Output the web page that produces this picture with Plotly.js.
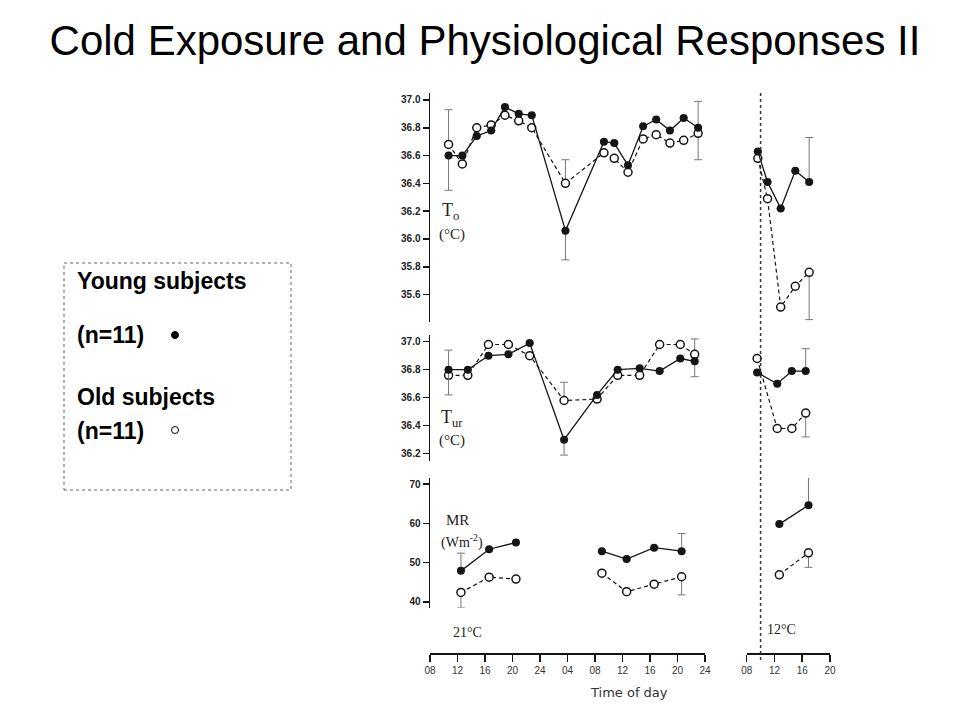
<!DOCTYPE html>
<html>
<head>
<meta charset="utf-8">
<script src="https://cdn.plot.ly/plotly-3.0.1.min.js"></script>
<style>
  html, body { margin: 0; padding: 0; background: #ffffff; }
  #chart { width: 960px; height: 720px; }
</style>
</head>
<body>
<div id="chart"></div>
<script>
// ---------------- DATA ----------------
// Time is in hours from midnight of day 1 (28 = 04:00 of the next day, 48 = 24:00 of day 2)

// Panel 1 – core temperature T_o (°C), 21°C condition
const hoursTo21      = [10.7, 12.7, 14.8, 16.9, 18.9, 20.9, 22.8, 27.7, 33.3, 34.8, 36.8, 39.0, 40.9, 42.9, 44.9, 47.0];
const youngTo21      = [36.60, 36.60, 36.74, 36.78, 36.95, 36.90, 36.89, 36.06, 36.70, 36.69, 36.53, 36.81, 36.86, 36.78, 36.87, 36.80];
const oldTo21        = [36.68, 36.54, 36.80, 36.82, 36.89, 36.85, 36.80, 36.40, 36.62, 36.58, 36.48, 36.72, 36.75, 36.69, 36.71, 36.76];
const youngTo21SdUp  = [0, null, null, null, null, null, null, 0, null, null, null, null, null, null, null, 0.19];
const youngTo21SdDn  = [0.25, null, null, null, null, null, null, 0.21, null, null, null, null, null, null, null, 0];
const oldTo21SdUp    = [0.25, null, null, null, null, null, null, 0.17, null, null, null, null, null, null, null, 0];
const oldTo21SdDn    = [0, null, null, null, null, null, null, 0, null, null, null, null, null, null, null, 0.19];

// Panel 1 – T_o, 12°C condition
const hoursTo12      = [9.6, 11.0, 12.9, 15.0, 17.0];
const youngTo12      = [36.63, 36.41, 36.22, 36.49, 36.41];
const oldTo12        = [36.58, 36.29, 35.51, 35.66, 35.76];
const youngTo12SdUp  = [null, null, null, null, 0.32];
const youngTo12SdDn  = [null, null, null, null, 0];
const oldTo12SdUp    = [null, null, null, null, 0];
const oldTo12SdDn    = [null, null, null, null, 0.34];

// Panel 2 – urine temperature T_ur (°C), 21°C condition
const hoursTur21     = [10.7, 13.5, 16.5, 19.4, 22.5, 27.5, 32.3, 35.3, 38.5, 41.4, 44.4, 46.5];
const youngTur21     = [36.80, 36.80, 36.90, 36.91, 36.99, 36.30, 36.62, 36.80, 36.81, 36.79, 36.88, 36.86];
const oldTur21       = [36.76, 36.76, 36.98, 36.98, 36.90, 36.58, 36.59, 36.76, 36.76, 36.98, 36.98, 36.91];
const youngTur21SdUp = [0, null, null, null, null, 0, null, null, null, null, null, 0];
const youngTur21SdDn = [0.18, null, null, null, null, 0.11, null, null, null, null, null, 0.11];
const oldTur21SdUp   = [0.18, null, null, null, null, 0.13, null, null, null, null, null, 0.11];
const oldTur21SdDn   = [0, null, null, null, null, 0, null, null, null, null, null, 0];

// Panel 2 – T_ur, 12°C condition
const hoursTur12     = [9.5, 12.4, 14.5, 16.5];
const youngTur12     = [36.78, 36.70, 36.79, 36.79];
const oldTur12       = [36.88, 36.38, 36.38, 36.49];
const youngTur12SdUp = [null, null, null, 0.16];
const youngTur12SdDn = [null, null, null, 0];
const oldTur12SdUp   = [null, null, null, 0];
const oldTur12SdDn   = [null, null, null, 0.17];

// Panel 3 – metabolic rate MR (W m^-2), 21°C condition (null = gap, no measurement overnight)
const hoursMR21      = [12.5, 16.6, 20.5, null, 33.0, 36.6, 40.6, 44.6];
const youngMR21      = [47.9, 53.4, 55.1, null, 52.9, 50.9, 53.8, 52.9];
const oldMR21        = [42.4, 46.3, 45.8, null, 47.3, 42.6, 44.5, 46.4];
const youngMR21SdUp  = [4.5, null, null, null, null, null, null, 4.5];
const youngMR21SdDn  = [0, null, null, null, null, null, null, 0];
const oldMR21SdUp    = [0, null, null, null, null, null, null, 0];
const oldMR21SdDn    = [3.9, null, null, null, null, null, null, 4.6];

// Panel 3 – MR, 12°C condition
const hoursMR12      = [12.7, 16.9];
const youngMR12      = [59.8, 64.6];
const oldMR12        = [46.9, 52.5];
const youngMR12SdUp  = [null, 8.5];
const youngMR12SdDn  = [null, 0];
const oldMR12SdUp    = [null, 0];
const oldMR12SdDn    = [null, 3.7];

// Start of cold exposure (hour, 12°C day)
const coldStartHour  = [10.0];

// Tick values and labels
const tickHours21  = [8, 12, 16, 20, 24, 28, 32, 36, 40, 44, 48];
const tickLabels21 = ["08", "12", "16", "20", "24", "04", "08", "12", "16", "20", "24"];
const tickHours12  = [8, 12, 16, 20];
const tickLabels12 = ["08", "12", "16", "20"];
const tickTo  = [35.6, 35.8, 36.0, 36.2, 36.4, 36.6, 36.8, 37.0];
const tickTur = [36.2, 36.4, 36.6, 36.8, 37.0];
const tickMR  = [40, 50, 60, 70];

// ---------------- helpers ----------------
const W = 960, H = 720;
const px = v => v / W;          // pixel -> paper x
const py = v => 1 - v / H;      // pixel -> paper y
const INK = '#151515';

function trace(x, y, xa, ya, young, up, dn) {
  return {
    type: 'scatter',
    mode: 'lines+markers',
    x: x, y: y, xaxis: xa, yaxis: ya,
    connectgaps: false,
    cliponaxis: false,
    showlegend: false,
    hoverinfo: 'x+y',
    line: young ? {color: INK, width: 1.3} : {color: INK, width: 1.2, dash: '4px,3px'},
    marker: young
      ? {symbol: 'circle', size: 8, color: INK, line: {width: 0}}
      : {symbol: 'circle', size: 8, color: '#ffffff', line: {color: INK, width: 1.5}},
    error_y: {
      type: 'data', symmetric: false, array: up, arrayminus: dn,
      color: '#777777', thickness: 1, width: 4
    }
  };
}

const data = [
  trace(hoursTo21, oldTo21, 'x', 'y', false, oldTo21SdUp, oldTo21SdDn),
  trace(hoursTo21, youngTo21, 'x', 'y', true, youngTo21SdUp, youngTo21SdDn),
  trace(hoursTo12, oldTo12, 'x2', 'y', false, oldTo12SdUp, oldTo12SdDn),
  trace(hoursTo12, youngTo12, 'x2', 'y', true, youngTo12SdUp, youngTo12SdDn),

  trace(hoursTur21, oldTur21, 'x', 'y2', false, oldTur21SdUp, oldTur21SdDn),
  trace(hoursTur21, youngTur21, 'x', 'y2', true, youngTur21SdUp, youngTur21SdDn),
  trace(hoursTur12, oldTur12, 'x2', 'y2', false, oldTur12SdUp, oldTur12SdDn),
  trace(hoursTur12, youngTur12, 'x2', 'y2', true, youngTur12SdUp, youngTur12SdDn),

  trace(hoursMR21, oldMR21, 'x', 'y3', false, oldMR21SdUp, oldMR21SdDn),
  trace(hoursMR21, youngMR21, 'x', 'y3', true, youngMR21SdUp, youngMR21SdDn),
  trace(hoursMR12, oldMR12, 'x2', 'y3', false, oldMR12SdUp, oldMR12SdDn),
  trace(hoursMR12, youngMR12, 'x2', 'y3', true, youngMR12SdUp, youngMR12SdDn)
];

const tickFontY = {family: 'Liberation Sans, Arial, sans-serif', size: 10, color: '#222', weight: 'bold'};
const tickFontX = {family: 'Liberation Sans, Arial, sans-serif', size: 10, color: '#333'};

function yAxis(range, domain, vals, fmt) {
  return {
    range: range, domain: domain, anchor: 'x',
    showline: true, linecolor: INK, linewidth: 1.5,
    ticks: 'outside', ticklen: 6, tickwidth: 1.5, tickcolor: INK,
    tickvals: vals, tickformat: fmt, tickfont: tickFontY,
    showgrid: false, zeroline: false, fixedrange: true
  };
}
function xAxis(range, domain, vals, labels) {
  return {
    range: range, domain: domain, anchor: 'free', position: py(653),
    showline: true, linecolor: INK, linewidth: 1.5,
    ticks: 'outside', ticklen: 7, tickwidth: 1.5, tickcolor: INK,
    tickvals: vals, ticktext: labels, tickfont: tickFontX,
    showgrid: false, zeroline: false, fixedrange: true
  };
}

const serif = {family: 'Liberation Serif, Times New Roman, serif', color: '#222'};
function note(text, x, y, size, extra) {
  return Object.assign({
    text: text, x: px(x), y: py(y), xref: 'paper', yref: 'paper',
    showarrow: false, xanchor: 'center', yanchor: 'middle',
    font: Object.assign({}, serif, {size: size})
  }, extra || {});
}
const legendFont = {family: 'Liberation Sans, Arial, sans-serif', size: 23, color: '#000', weight: 'bold'};
function legendText(text, y) {
  return {
    text: text, x: px(75), y: py(y), xref: 'paper', yref: 'paper',
    showarrow: false, xanchor: 'left', yanchor: 'middle', font: legendFont
  };
}

const layout = {
  width: W, height: H,
  margin: {l: 0, r: 0, t: 0, b: 0},
  paper_bgcolor: '#ffffff', plot_bgcolor: 'rgba(0,0,0,0)',
  showlegend: false,
  title: {
    text: 'Cold Exposure and Physiological Responses II',
    x: px(485), xanchor: 'center', y: py(40), yanchor: 'middle',
    font: {family: 'Liberation Sans, Arial, sans-serif', size: 42, color: '#000'}
  },
  xaxis:  xAxis([8, 48], [px(430), px(705)], tickHours21, tickLabels21),
  xaxis2: xAxis([8, 20], [px(746.7), px(830)], tickHours12, tickLabels12),
  yaxis:  yAxis([35.4, 37.05], [py(322.4), py(93)], tickTo, '.1f'),
  yaxis2: yAxis([36.15, 37.05], [py(460.7), py(334.7)], tickTur, '.1f'),
  yaxis3: yAxis([38.5, 71.5], [py(607.8), py(478.1)], tickMR, 'd'),
  shapes: [
    {type: 'line', xref: 'x2', yref: 'paper', x0: coldStartHour[0], x1: coldStartHour[0],
     y0: py(660), y1: py(90), line: {color: '#333', width: 1.5, dash: 'dot'}},
    {type: 'rect', xref: 'paper', yref: 'paper', x0: px(64), x1: px(291), y0: py(490), y1: py(263),
     line: {color: '#666', width: 1, dash: 'dot'}, fillcolor: 'rgba(0,0,0,0)'},
    {type: 'circle', xref: 'paper', yref: 'paper', x0: px(171.5), x1: px(178.5), y0: py(338.5), y1: py(331.5),
     line: {color: '#000', width: 1}, fillcolor: '#000'},
    {type: 'circle', xref: 'paper', yref: 'paper', x0: px(171.5), x1: px(178.5), y0: py(433.5), y1: py(426.5),
     line: {color: '#000', width: 1}, fillcolor: '#fff'}
  ],
  annotations: [
    note('T<sub>o</sub>', 450, 211, 18),
    note('(°C)', 452, 235, 15),
    note('T<sub>ur</sub>', 452, 418, 18),
    note('(°C)', 452, 440, 15),
    note('MR', 457, 520, 15),
    note('(Wm<sup>-2</sup>)', 462, 541, 14),
    note('21°C', 467, 632, 14),
    note('12°C', 781, 629, 14),
    note('Time of day', 629, 692, 14, {font: {family: 'DejaVu Sans, sans-serif', size: 13, color: '#333'}}),
    legendText('Young subjects', 281),
    legendText('(n=11)', 335),
    legendText('Old subjects', 397),
    legendText('(n=11)', 431)
  ]
};

Plotly.newPlot('chart', data, layout, {staticPlot: true, displayModeBar: false});
</script>
</body>
</html>
